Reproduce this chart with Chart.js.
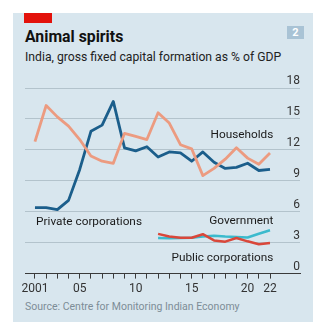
<!DOCTYPE html>
<html>
<head>
<meta charset="utf-8">
<script src="https://cdn.jsdelivr.net/npm/chart.js@4"></script>
<style>
  html, body { margin: 0; padding: 0; background: #fff; }
  body { width: 324px; height: 331px; position: relative; overflow: hidden; font-family: Roboto, "Noto Sans", sans-serif; }
  #panel { position: absolute; left: 13px; top: 13px; width: 300px; height: 309px; background: #d8e6ee; }
  #redbar { position: absolute; left: 11px; top: 0; width: 28px; height: 10px; background: #e3120b; }
  #title { position: absolute; left: 12px; top: 14px; font-size: 15.8px; font-weight: bold; color: #111; }
  #subtitle { position: absolute; left: 12px; top: 37px; font-size: 12.2px; color: #222; }
  #num { position: absolute; left: 274px; top: 13px; width: 17px; height: 13px; background: #a9c3d5; color: #fff; font-size: 11px; font-weight: bold; text-align: center; line-height: 14px; }
  #wrap { position: absolute; left: 0; top: 59px; width: 300px; height: 227px; }
  #source { position: absolute; left: 12px; top: 287px; font-size: 10.5px; color: #7d8d97; }
</style>
</head>
<body>
<div id="panel">
  <div id="redbar"></div>
  <div id="title">Animal spirits</div>
  <div id="subtitle">India, gross fixed capital formation as % of GDP</div>
  <div id="num">2</div>
  <div id="wrap"><canvas id="chart"></canvas></div>
  <div id="source">Source: Centre for Monitoring Indian Economy</div>
</div>
<script>
const years = [2001, 2002, 2003, 2004, 2005, 2006, 2007, 2008, 2009, 2010, 2011,
               2012, 2013, 2014, 2015, 2016, 2017, 2018, 2019, 2020, 2021, 2022];
const households = [12.8, 16.3, 15.2, 14.3, 13.0, 11.4, 10.9, 10.7, 13.6, 13.3, 13.0,
                    15.6, 14.6, 12.5, 12.1, 9.5, 10.2, 11.1, 12.2, 11.2, 10.6, 11.7];
const privateCorps = [6.4, 6.4, 6.2, 7.1, 10.1, 13.8, 14.4, 16.7, 12.2, 11.9, 12.3,
                      11.3, 11.8, 11.7, 10.9, 11.8, 10.8, 10.2, 10.3, 10.7, 10.0, 10.1];
const govYears = [2012, 2013, 2014, 2015, 2016, 2017, 2018, 2019, 2020, 2021, 2022];
const government = [3.45, 3.42, 3.45, 3.48, 3.6, 3.68, 3.6, 3.55, 3.5, 3.87, 4.2];
const publicCorps = [3.85, 3.6, 3.48, 3.48, 3.82, 3.22, 3.1, 3.45, 3.13, 2.85, 2.97];
const yTicks = [0, 3, 6, 9, 12, 15, 18];
const xLabels = { 2001: '2001', 2005: '05', 2010: '10', 2015: '15', 2020: '20', 2022: '22' };

const pts = (xs, ys) => xs.map((x, i) => ({ x: x, y: ys[i] }));

// series labels placed in data coordinates
const notes = [
  { text: 'Households', x: 2022.3, y: 13.4, align: 'right' },
  { text: 'Private corporations', x: 2001.1, y: 5.0, align: 'left' },
  { text: 'Government', x: 2022.3, y: 5.1, align: 'right' },
  { text: 'Public corporations', x: 2022.3, y: 1.55, align: 'right' }
];

const notesPlugin = {
  id: 'notes',
  afterDatasetsDraw(chart) {
    const ctx = chart.ctx;
    const xs = chart.scales.x, ys = chart.scales.y;
    ctx.save();
    ctx.font = '11.8px Roboto, "Noto Sans", sans-serif';
    ctx.fillStyle = '#1a1a1a';
    ctx.textBaseline = 'middle';
    notes.forEach(n => {
      ctx.textAlign = n.align;
      ctx.fillText(n.text, xs.getPixelForValue(n.x), ys.getPixelForValue(n.y));
    });
    ctx.restore();
  }
};

const line = (data, color, width) => ({
  data: data, borderColor: color, borderWidth: width, pointRadius: 0,
  tension: 0, fill: false, borderJoinStyle: 'round', borderCapStyle: 'butt'
});

new Chart(document.getElementById('chart'), {
  type: 'line',
  data: {
    datasets: [
      line(pts(govYears, publicCorps), '#d9473a', 2.5),
      line(pts(govYears, government), '#3bbacd', 2.5),
      line(pts(years, households), '#ec9b80', 2.8),
      line(pts(years, privateCorps), '#1b5e8b', 2.8)
    ]
  },
  options: {
    responsive: true,
    maintainAspectRatio: false,
    animation: false,
    layout: { padding: { left: 12, right: 13, top: 16, bottom: 0 } },
    plugins: { legend: { display: false }, tooltip: { enabled: false } },
    scales: {
      x: {
        type: 'linear',
        min: 2000.11,
        max: 2024.68,
        afterBuildTicks(scale) { scale.ticks = years.map(v => ({ value: v })); },
        grid: { drawOnChartArea: false, drawTicks: true, tickLength: 5, color: '#3a3a3a', lineWidth: 1 },
        border: { display: true, color: '#3a3a3a', width: 1 },
        ticks: {
          autoSkip: false, maxRotation: 0, padding: 3,
          color: '#333', font: { family: 'Roboto, "Noto Sans", sans-serif', size: 12 },
          callback: v => xLabels[v] || ''
        }
      },
      y: {
        position: 'right',
        min: 0,
        max: 18,
        afterBuildTicks(scale) { scale.ticks = yTicks.map(v => ({ value: v })); },
        grid: { drawTicks: false, color: ctx => ctx.tick.value === 0 ? 'rgba(0,0,0,0)' : '#b3c3cc', lineWidth: 1 },
        border: { display: false },
        ticks: {
          mirror: true, padding: 0, labelOffset: -7,
          color: '#333', font: { family: 'Roboto, "Noto Sans", sans-serif', size: 12 }
        }
      }
    }
  },
  plugins: [notesPlugin]
});
</script>
</body>
</html>
